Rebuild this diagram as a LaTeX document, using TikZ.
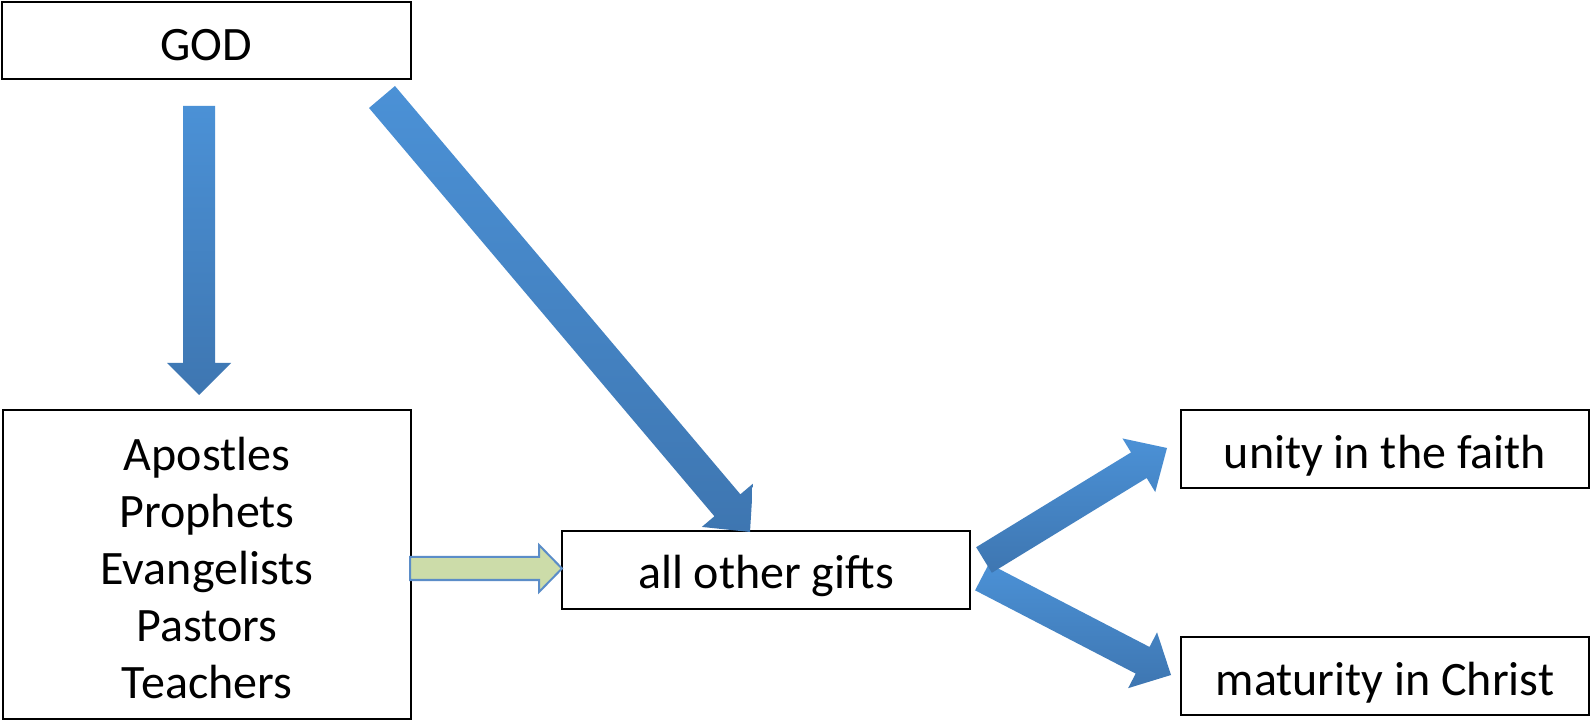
\documentclass[tikz,border=0pt]{standalone}
\usepackage{fontspec}
\setmainfont{Carlito}
\usetikzlibrary{calc}
\definecolor{arrlight}{HTML}{4B91D6}
\definecolor{arrdark}{HTML}{3E76B1}
\definecolor{greenfill}{HTML}{CCDCA9}
\definecolor{greenedge}{HTML}{5B8DC8}
\newcommand\blockarr[6]{%
  \coordinate (ba-a) at (#2);
  \coordinate (ba-b) at (#3);
  \coordinate (ba-c) at ($(ba-b)!#6!(ba-a)$);
  \path[#1] ($(ba-a)!#4!90:(ba-b)$) -- ($(ba-c)!#4!90:(ba-b)$) -- ($(ba-c)!#5!90:(ba-b)$)
    -- (ba-b) -- ($(ba-c)!#5!-90:(ba-b)$) -- ($(ba-c)!#4!-90:(ba-b)$)
    -- ($(ba-a)!#4!-90:(ba-b)$) -- cycle;
}
\newcommand\lowertext[2]{\raisebox{-#1}[\height][\depth]{#2}}
\begin{document}
\begin{tikzpicture}[x=0.5pt,y=-0.5pt,
  box/.style={draw=black, line width=1pt, fill=white, minimum width=204pt, minimum height=39pt,
    inner sep=0pt, font=\fontsize{24}{28.5}\selectfont, align=center},
  bluearr/.style={top color=arrlight, bottom color=arrdark},
  greenarr/.style={fill=greenfill, draw=greenedge, line width=1pt, line join=miter}]
\useasboundingbox (0,0) rectangle (1591,721);
\fill[white] (0,0) rectangle (1591,721);

\node[box, minimum width=204.5pt, minimum height=38.5pt] (god) at (206.5,40.5) {\lowertext{2.5pt}{GOD}};
\node[box, minimum height=154.5pt] (five) at (207,564.5) {\lowertext{4.5pt}{\begin{tabular}{@{}c@{}}Apostles\\Prophets\\Evangelists\\Pastors\\Teachers\end{tabular}}};
\node[box] (gifts) at (766,570) {\lowertext{3pt}{all other gifts}};
\node[box] (unity) at (1385,449) {\lowertext{3.5pt}{unity in the faith}};
\node[box] (maturity) at (1385,676) {\lowertext{3.5pt}{maturity in Christ}};

% arrow end points
\coordinate (a1s) at (199,106);  \coordinate (a1e) at (199,395);
\coordinate (a2s) at (382,97);   \coordinate (a2e) at (750,532);
\coordinate (a3s) at (410,568.5);\coordinate (a3e) at (562,568.5);
\coordinate (a4s) at (984,560);  \coordinate (a4e) at (1167,448);
\coordinate (a5s) at (982,577);  \coordinate (a5e) at (1171,675);

\blockarr{bluearr}{a1s}{a1e}{8pt}{16pt}{16pt}
\blockarr{bluearr}{a2s}{a2e}{8.5pt}{16.75pt}{17.5pt}
\blockarr{greenarr}{a3s}{a3e}{5.75pt}{11.75pt}{11.5pt}
\blockarr{bluearr}{a5s}{a5e}{7.5pt}{15.7pt}{16pt}
\blockarr{bluearr}{a4s}{a4e}{7.5pt}{15.7pt}{16.5pt}
\end{tikzpicture}
\end{document}
